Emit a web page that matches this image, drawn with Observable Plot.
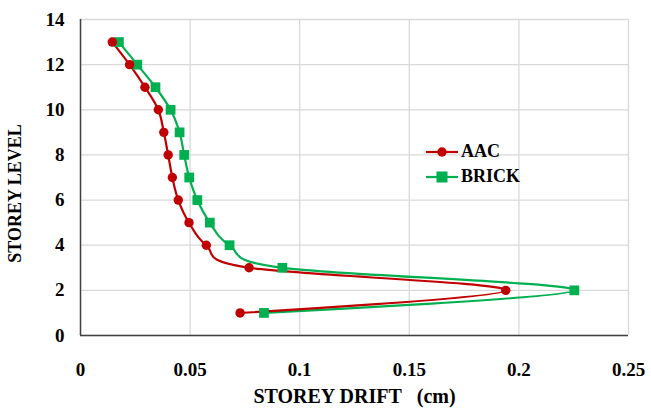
<!DOCTYPE html>
<html>
<head>
<meta charset="utf-8">
<script src="https://cdn.jsdelivr.net/npm/d3@7"></script>
<script src="https://cdn.jsdelivr.net/npm/@observablehq/plot@0.6"></script>
<style>
  html, body { margin: 0; padding: 0; background: #fff; }
  #wrap { position: relative; width: 651px; height: 410px; }
  #wrap svg text { font-family: "Liberation Serif", "Times New Roman", serif; }
  .legend { position: absolute; left: 426px; top: 139px; font: bold 18px "Liberation Serif", serif; color: #000; }
  .legend div { display: flex; align-items: center; height: 25px; }
  .legend svg { margin-right: 3px; }
</style>
</head>
<body>
<div id="wrap"></div>
<script>
const levels = [1, 2, 3, 4, 5, 6, 7, 8, 9, 10, 11, 12, 13];
const aac    = [0.0728, 0.194, 0.0769, 0.0574, 0.0495, 0.0446, 0.0419, 0.0400, 0.0380, 0.0355, 0.0294, 0.0224, 0.0145];
const brick  = [0.0837, 0.2253, 0.0921, 0.0680, 0.0590, 0.0533, 0.0496, 0.0473, 0.0452, 0.0411, 0.0342, 0.0259, 0.0175];
const xTicks = [0, 0.05, 0.1, 0.15, 0.2, 0.25];
const yTicks = [0, 2, 4, 6, 8, 10, 12, 14];
const seriesNames = ["AAC", "BRICK"];
const seriesColors = ["#c00000", "#00b050"];

const rows = [];
levels.forEach((l, i) => {
  rows.push({series: "AAC", level: l, drift: aac[i]});
  rows.push({series: "BRICK", level: l, drift: brick[i]});
});
const aacRows = rows.filter(d => d.series === "AAC");
const brickRows = rows.filter(d => d.series === "BRICK");

const font = '"Liberation Serif", "Times New Roman", serif';

const chart = Plot.plot({
  width: 651,
  height: 410,
  marginLeft: 80,
  marginRight: 23,
  marginTop: 19,
  marginBottom: 75,
  style: {fontFamily: font, fontSize: "18px", fontWeight: "bold", color: "#000", background: "#fff"},
  x: {domain: [0, 0.25], ticks: xTicks, label: null},
  y: {domain: [0, 14], ticks: yTicks, label: null},
  marks: [
    Plot.gridX(xTicks, {stroke: "#d9d9d9", strokeOpacity: 1, strokeWidth: 1.3}),
    Plot.gridY(yTicks, {stroke: "#d9d9d9", strokeOpacity: 1, strokeWidth: 1.3}),
    Plot.ruleX([0], {stroke: "#404040", strokeWidth: 1.5}),
    Plot.ruleY([0], {stroke: "#404040", strokeWidth: 1.5}),
    Plot.axisX(xTicks, {tickSize: 0, tickPadding: 27, fontSize: 19, fontWeight: "bold", fontFamily: font, tickFormat: d => String(d), label: null}),
    Plot.axisY(yTicks, {tickSize: 0, tickPadding: 16, fontSize: 19, fontWeight: "bold", fontFamily: font, tickFormat: d => String(d), label: null}),
    Plot.line(brickRows, {x: "drift", y: "level", stroke: seriesColors[1], strokeWidth: 2.2, curve: "cardinal"}),
    Plot.line(aacRows, {x: "drift", y: "level", stroke: seriesColors[0], strokeWidth: 2.2, curve: "cardinal"}),
    Plot.dot(brickRows, {x: "drift", y: "level", fill: seriesColors[1], symbol: "square", r: 5.5}),
    Plot.dot(aacRows, {x: "drift", y: "level", fill: seriesColors[0], symbol: "circle", r: 4.7}),
    Plot.text(["STOREY DRIFT\u00a0\u00a0\u00a0(cm)"], {frameAnchor: "bottom", textAnchor: "middle", lineAnchor: "bottom", dy: 67, fontSize: 20, fontWeight: "bold", fontFamily: font, text: d => d, fill: "#000"}),
    Plot.text(["STOREY LEVEL"], {frameAnchor: "left", textAnchor: "middle", dx: -65, dy: 16, rotate: -90, fontSize: 18, fontWeight: "bold", fontFamily: font, text: d => d, fill: "#000"})
  ]
});

const wrap = document.getElementById("wrap");
wrap.appendChild(chart);

const legend = document.createElement("div");
legend.className = "legend";
seriesNames.forEach((name, i) => {
  const row = document.createElement("div");
  const marker = i === 0
    ? `<circle cx="16" cy="6" r="4.7" fill="${seriesColors[i]}"/>`
    : `<rect x="10.5" y="0.5" width="11" height="11" fill="${seriesColors[i]}"/>`;
  row.innerHTML = `<svg width="32" height="12"><line x1="0" x2="32" y1="6" y2="6" stroke="${seriesColors[i]}" stroke-width="2.2"/>${marker}</svg><span>${name}</span>`;
  legend.appendChild(row);
});
wrap.appendChild(legend);
</script>
</body>
</html>
